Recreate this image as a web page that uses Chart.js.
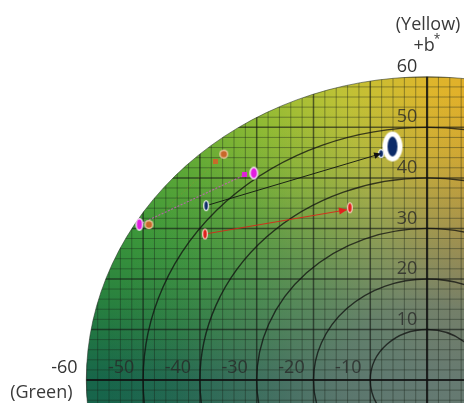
<!DOCTYPE html>
<html><head><meta charset="utf-8">
<script src="https://cdn.jsdelivr.net/npm/chart.js@4"></script>
<style>html,body{margin:0;padding:0;background:#fff;overflow:hidden;}#wrap{width:464px;height:403px;position:relative;}</style>
</head><body><div id="wrap"><canvas id="c"></canvas></div>
<script>
// ---- data ----
const aTicks = [-60, -50, -40, -30, -20, -10];
const bTicks = [10, 20, 30, 40, 50, 60];
const ringRadii = [10, 20, 30, 40, 50];
const discRadius = 60;
const minorStep = 2;
const majorStep = 10;
const xRange = [-75.2, 6.5];
const yRange = [-4.55, 75.2];

const blueStart = {x: -38.9, y: 34.5};
const blueEnd = {x: -8.1, y: 44.8};
const blueTarget = {x: -6.1, y: 46.2};
const redStart = {x: -39.1, y: 28.9};
const redEnd = {x: -14.1, y: 33.7};
const redMark = {x: -13.6, y: 34.1};
const magStart = {x: -50.65, y: 30.8};
const magEnd = {x: -32.1, y: 40.6};
const magMark = {x: -30.5, y: 40.95};
const orgStart = {x: -48.98, y: 30.75};
const orgEnd = {x: -37.2, y: 43.2};
const orgMark = {x: -35.8, y: 44.7};

// ---- marker images ----
function ell(w, h, fill, border, bw) {
  const c = document.createElement('canvas');
  c.width = Math.ceil(w + 2); c.height = Math.ceil(h + 2);
  const g = c.getContext('2d');
  const cx = c.width / 2, cy = c.height / 2;
  if (border) {
    g.fillStyle = border; g.beginPath(); g.ellipse(cx, cy, w / 2, h / 2, 0, 0, Math.PI * 2); g.fill();
  }
  g.fillStyle = fill; g.beginPath(); g.ellipse(cx, cy, w / 2 - bw, h / 2 - bw, 0, 0, Math.PI * 2); g.fill();
  return c;
}
function sq(s, fill) {
  const c = document.createElement('canvas');
  c.width = s; c.height = s;
  const g = c.getContext('2d'); g.fillStyle = fill; g.fillRect(0, 0, s, s);
  return c;
}
const NAVY = '#0c2a68', RED = '#e0201c', MAG = '#e21ee0', ORG = '#c8682a';
const imgBig = ell(20, 30, NAVY, '#ffffff', 5);
const imgNavySmall = ell(6, 9, NAVY, '#e8eef8', 1.2);
const imgBlueStart = ell(6, 11, NAVY, '#f4f4f4', 1.3);
const imgRedStart = ell(6, 11, RED, '#f6d0c0', 1.3);
const imgRedMark = ell(6, 11, RED, '#f6d0c0', 1.3);
const imgMagStart = ell(8, 13, MAG, '#f8f0f8', 1.4);
const imgMagMark = ell(9, 13, MAG, '#f8f0f8', 1.4);
const imgOrgStart = ell(9, 9, ORG, '#f0d0a8', 1.3);
const imgOrgMark = ell(9, 9, ORG, '#f0d0a8', 1.3);
const imgOrgSq = sq(5, '#c86a2a');
const imgMagSq = sq(5, '#e020d8');

// ---- background disc plugin ----
const discPlugin = {
  id: 'disc',
  beforeDatasetsDraw(chart) {
    const ctx = chart.ctx, xs = chart.scales.x, ys = chart.scales.y;
    const ox = xs.getPixelForValue(0), oy = ys.getPixelForValue(0);
    const rx = xs.getPixelForValue(discRadius) - ox;
    const ry = oy - ys.getPixelForValue(discRadius);
    const W = chart.width, H = chart.height;
    ctx.save();
    ctx.beginPath(); ctx.ellipse(ox, oy, rx, ry, 0, 0, Math.PI * 2); ctx.clip();
    ctx.save();
    ctx.translate(ox, oy); ctx.scale(1, ry / rx);
    const cg = ctx.createConicGradient(-Math.PI, 0, 0);
    [[0, '#17664a'], [0.0417, '#28803f'], [0.0833, '#3c973a'], [0.125, '#5ea836'],
     [0.1667, '#8fba34'], [0.2083, '#bec236'], [0.25, '#ddb62c'], [0.2917, '#e8a826'],
     [0.375, '#e09a30'], [0.5, '#a08060'], [0.75, '#607070'], [0.958, '#18604e'], [1, '#17664a']]
      .forEach(s => cg.addColorStop(s[0], s[1]));
    ctx.fillStyle = cg; ctx.fillRect(-rx * 2, -rx * 2, rx * 4, rx * 4);
    const rg = ctx.createRadialGradient(0, 0, 0, 0, 0, rx);
    [[0, 1], [0.25, 0.88], [0.5, 0.5], [0.75, 0.15], [0.95, 0]]
      .forEach(s => rg.addColorStop(s[0], 'rgba(100,122,114,' + s[1] + ')'));
    ctx.fillStyle = rg; ctx.fillRect(-rx * 2, -rx * 2, rx * 4, rx * 4);
    ctx.restore();
    // grid
    const vline = (v, w, col) => { const p = xs.getPixelForValue(v); ctx.strokeStyle = col; ctx.lineWidth = w; ctx.beginPath(); ctx.moveTo(p, 0); ctx.lineTo(p, H); ctx.stroke(); };
    const hline = (v, w, col) => { const p = ys.getPixelForValue(v); ctx.strokeStyle = col; ctx.lineWidth = w; ctx.beginPath(); ctx.moveTo(0, p); ctx.lineTo(W, p); ctx.stroke(); };
    for (let v = -discRadius; v <= discRadius; v += minorStep) {
      if (v % majorStep === 0) continue;
      vline(v, 1, 'rgba(25,35,25,0.4)'); hline(v, 1, 'rgba(25,35,25,0.4)');
    }
    for (let v = -discRadius; v <= discRadius; v += majorStep) {
      if (v === 0) continue;
      vline(v, 1.5, 'rgba(20,25,20,0.62)'); hline(v, 1.5, 'rgba(20,25,20,0.62)');
    }
    vline(0, 2.2, 'rgba(15,15,15,0.85)'); hline(0, 2.2, 'rgba(15,15,15,0.85)');
    ctx.strokeStyle = 'rgba(15,15,15,0.75)'; ctx.lineWidth = 1.4;
    ringRadii.forEach(r => {
      const a = xs.getPixelForValue(r) - ox, b = oy - ys.getPixelForValue(r);
      ctx.beginPath(); ctx.ellipse(ox, oy, a, b, 0, 0, Math.PI * 2); ctx.stroke();
    });
    ctx.restore();
    // disc edge
    ctx.save();
    ctx.strokeStyle = 'rgba(40,50,40,0.55)'; ctx.lineWidth = 1;
    ctx.beginPath(); ctx.ellipse(ox, oy, rx, ry, 0, 0, Math.PI * 2); ctx.stroke();
    // tick labels
    ctx.font = '18px "Open Sans", sans-serif';
    ctx.textAlign = 'center'; ctx.textBaseline = 'middle';
    aTicks.forEach(v => {
      ctx.fillStyle = v === -60 ? '#333333' : 'rgba(40,40,40,0.78)';
      ctx.fillText(String(v), xs.getPixelForValue(v) - 22, oy - 12);
    });
    bTicks.forEach(v => {
      ctx.fillStyle = v === 60 ? '#333333' : 'rgba(40,40,40,0.78)';
      ctx.fillText(String(v), ox - 20, ys.getPixelForValue(v) - 10);
    });
    ctx.fillStyle = '#3a3a3a';
    ctx.font = '18px "Open Sans", sans-serif';
    ctx.fillText('(Green)', xs.getPixelForValue(-60) - 45, oy + 13);
    ctx.fillText('(Yellow)', ox + 1, 25);
    ctx.fillText('+b', ox - 3, 46);
    ctx.font = '12px "Open Sans", sans-serif';
    ctx.fillText('*', ox + 10, 40);
    ctx.restore();
  }
};

// ---- arrowheads ----
const arrows = [
  {from: blueStart, to: blueEnd, color: '#111111', size: 7},
  {from: redStart, to: redEnd, color: '#e0201c', size: 8}
];
const arrowPlugin = {
  id: 'arrows',
  afterDatasetsDraw(chart) {
    const ctx = chart.ctx, xs = chart.scales.x, ys = chart.scales.y;
    arrows.forEach(a => {
      const x1 = xs.getPixelForValue(a.from.x), y1 = ys.getPixelForValue(a.from.y);
      const x2 = xs.getPixelForValue(a.to.x), y2 = ys.getPixelForValue(a.to.y);
      const ang = Math.atan2(y2 - y1, x2 - x1);
      ctx.save();
      ctx.translate(x2, y2); ctx.rotate(ang);
      ctx.fillStyle = a.color;
      ctx.beginPath(); ctx.moveTo(0, 0); ctx.lineTo(-a.size, -a.size * 0.45); ctx.lineTo(-a.size, a.size * 0.45); ctx.closePath(); ctx.fill();
      ctx.restore();
    });
  }
};

function lineDs(from, to, color, width, dash) {
  return {type: 'scatter', data: [from, to], showLine: true, borderColor: color, borderWidth: width,
    borderDash: dash || [], pointRadius: 0, pointHoverRadius: 0, order: 3};
}
function ptDs(pt, img) {
  return {type: 'scatter', data: [pt], pointStyle: img, pointRadius: 6, order: 1};
}

new Chart(document.getElementById('c'), {
  type: 'scatter',
  data: {
    datasets: [
      lineDs(orgStart, orgEnd, 'rgba(200,110,50,0.25)', 1, [2, 2]),
      lineDs(magStart, magEnd, 'rgba(215,90,205,0.7)', 1.2, [2, 1.5]),
      lineDs(blueStart, blueEnd, 'rgba(15,20,15,0.9)', 1, []),
      lineDs(redStart, redEnd, 'rgba(215,40,25,0.9)', 1.1, []),
      ptDs(orgEnd, imgOrgSq),
      ptDs(magEnd, imgMagSq),
      ptDs(orgStart, imgOrgStart),
      ptDs(magStart, imgMagStart),
      ptDs(orgMark, imgOrgMark),
      ptDs(magMark, imgMagMark),
      ptDs(blueStart, imgBlueStart),
      ptDs(redStart, imgRedStart),
      ptDs(redMark, imgRedMark),
      ptDs(blueEnd, imgNavySmall),
      ptDs(blueTarget, imgBig)
    ]
  },
  options: {
    responsive: true, maintainAspectRatio: false, animation: false,
    layout: {padding: 0, autoPadding: false},
    plugins: {legend: {display: false}, tooltip: {enabled: false}},
    events: [],
    scales: {
      x: {type: 'linear', min: xRange[0], max: xRange[1], display: false},
      y: {type: 'linear', min: yRange[0], max: yRange[1], display: false}
    }
  },
  plugins: [discPlugin, arrowPlugin]
});
</script></body></html>
